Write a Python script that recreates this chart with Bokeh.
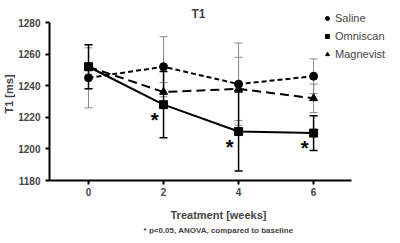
from bokeh.plotting import figure
from bokeh.models import Range1d, Whisker, TeeHead, ColumnDataSource, Legend, LegendItem, Title, FixedTicker, Label
from bokeh.core.properties import value
from bokeh.embed import file_html
from bokeh.resources import INLINE

weeks = [0, 2, 4, 6]
saline = [1245, 1252, 1241, 1246]
saline_err = [19, 19, 26, 11]
omniscan = [1252, 1228, 1211, 1210]
omniscan_err = [14, 21, 25, 11]
magnevist = [1252, 1236, 1238, 1232]
magnevist_err = [14, 6, 20, 9]
sig_weeks = [2, 4, 6]
y_ticks = [1180, 1200, 1220, 1240, 1260, 1280]
x_ticks = [0, 2, 4, 6]

FONT = "Liberation Sans"

p = figure(frame_width=338, frame_height=173, output_backend="svg", toolbar_location=None,
           x_range=Range1d(-1.04, 7.97), y_range=Range1d(1180, 1289.5),
           min_border_left=46, min_border_right=0, min_border_top=7, min_border_bottom=0)
p.outline_line_color = None
p.grid.visible = False
p.background_fill_color = "white"
p.border_fill_color = "white"

for ax in (p.xaxis[0], p.yaxis[0]):
    ax.axis_line_width = 2
    ax.major_tick_line_width = 2
    ax.major_tick_out = 4
    ax.major_tick_in = 0
    ax.minor_tick_line_color = None
    ax.major_label_text_font = FONT
    ax.major_label_text_font_size = "10px"
    ax.major_label_text_font_style = "bold"
    ax.axis_label_text_font = FONT
    ax.axis_label_text_font_style = "bold"
    ax.axis_label_text_font_size = "11px"

p.xaxis.ticker = FixedTicker(ticks=x_ticks)
p.yaxis.ticker = FixedTicker(ticks=y_ticks)
p.xaxis.bounds = (-1.04, 7.0)
p.yaxis.bounds = (1180, 1280)
p.xaxis.axis_label = "Treatment [weeks]"
p.yaxis.axis_label = "T1 [ms]"
p.xaxis.major_label_standoff = 3
p.xaxis.axis_label_standoff = 10
p.yaxis.axis_label_standoff = 0

foot = Title(text="* p<0.05, ANOVA, compared to baseline", align="center",
             text_font=FONT, text_font_size="8px", text_font_style="bold",
             standoff=0, text_line_height=1.0)
p.add_layout(foot, "below")

title = Label(x=2.93, y=1285.7, text="T1", text_align="center", text_baseline="middle",
              text_font=FONT, text_font_size="12px", text_font_style="bold")
p.add_layout(title)

def errs(vals, err, color, width):
    src = ColumnDataSource(dict(x=weeks, lo=[v - e for v, e in zip(vals, err)],
                                hi=[v + e for v, e in zip(vals, err)]))
    w = Whisker(source=src, base="x", lower="lo", upper="hi",
                line_color=color, line_width=width,
                upper_head=TeeHead(size=8, line_color=color, line_width=width),
                lower_head=TeeHead(size=8, line_color=color, line_width=width))
    p.add_layout(w)

errs(saline, saline_err, "#8a8a8a", 1)
errs(magnevist, magnevist_err, "#8a8a8a", 1)
errs(omniscan, omniscan_err, "black", 1.5)

p.line(weeks, saline, line_color="black", line_width=2, line_dash="5 3")
p.line(weeks, magnevist, line_color="black", line_width=2, line_dash="9 5")
p.line(weeks, omniscan, line_color="black", line_width=2)

r_s = p.scatter(weeks, saline, marker="circle", size=8, color="black")
r_o = p.scatter(weeks, omniscan, marker="square", size=8, color="black")
r_m = p.scatter(weeks, magnevist, marker="triangle", size=8, color="black")

sig_y = [omniscan[weeks.index(w)] for w in sig_weeks]
p.text(sig_weeks, sig_y, text=["*"] * len(sig_weeks), x_offset=-9, y_offset=15,
       text_align="center", text_baseline="middle", text_font=value(FONT),
       text_font_size="20px", text_font_style="bold", text_color="black")

legend = Legend(items=[LegendItem(label="Saline", renderers=[r_s]),
                       LegendItem(label="Omniscan", renderers=[r_o]),
                       LegendItem(label="Magnevist", renderers=[r_m])],
                location=(273, 120), orientation="vertical",
                label_text_font=FONT, label_text_font_size="11px",
                glyph_width=10, glyph_height=10, spacing=5, padding=2, margin=0,
                label_height=13, label_width=60, label_standoff=3, border_line_color=None,
                background_fill_alpha=0)
p.add_layout(legend)

open("out.html", "w").write(file_html(p, INLINE))
